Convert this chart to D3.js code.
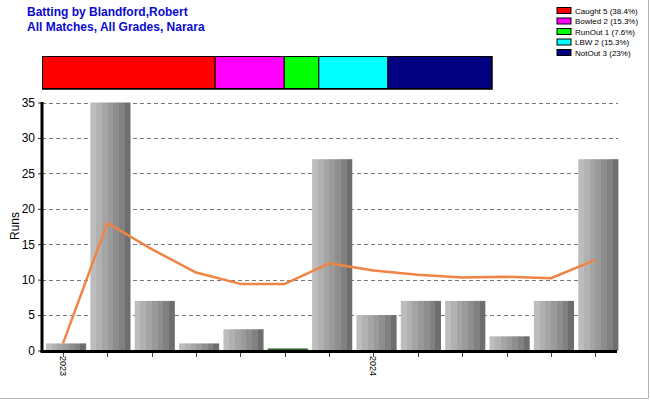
<!DOCTYPE html>
<html><head><meta charset="utf-8">
<script src="https://cdn.jsdelivr.net/npm/d3@7"></script>
<style>body{margin:0;background:#fff}svg{display:block;font-family:"Liberation Sans",Arial,sans-serif}</style>
</head><body><svg id="c" width="650" height="400"></svg>
<script>
const innings = d3.range(13);
const runs = [1, 35, 7, 1, 3, 0, 27, 5, 7, 7, 2, 7, 27];
const average = [1, 18, 14.3, 11, 9.4, 9.4, 12.3, 11.3, 10.7, 10.3, 10.4, 10.2, 12.8];
const xLabels = ["2023", "", "", "", "", "", "", "2024", "", "", "", "", ""];
const yTicks = [0, 5, 10, 15, 20, 25, 30, 35];
const dismissals = ["Caught", "Bowled", "RunOut", "LBW", "NotOut"];
const dismissalCounts = [5, 2, 1, 2, 3];
const dismissalPct = ["38.4%", "15.3%", "7.6%", "15.3%", "23%"];
const dismissalColors = ["#ff0000", "#ff00ff", "#00ff00", "#00ffff", "#000080"];

const svg = d3.select("#c");
const W = 650, H = 400;

// frame (right & bottom)
svg.append("line").attr("x1", 648.5).attr("x2", 648.5).attr("y1", 0).attr("y2", 398.5).attr("stroke", "#b4b4b4");
svg.append("line").attr("x1", 0).attr("x2", 648.5).attr("y1", 398.5).attr("y2", 398.5).attr("stroke", "#b4b4b4");

// title
const title = svg.append("text").attr("x", 27).attr("fill", "#0a0ad0").attr("font-weight", "bold").attr("font-size", 12);
title.append("tspan").attr("x", 27).attr("y", 16).text("Batting by Blandford,Robert");
title.append("tspan").attr("x", 27).attr("y", 31).text("All Matches, All Grades, Narara");

// scales
const x = d3.scaleBand().domain(innings).range([43.9, 620.5]).paddingInner(0.095).paddingOuter(0.0475);
const px = i => x(i) + 17;
const y = d3.scaleLinear().domain([0, 35]).range([350.5, 102.5]);

// gradient for bars
const defs = svg.append("defs");
const g = defs.append("linearGradient").attr("id", "barg").attr("x1", "0").attr("x2", "1").attr("y1", "0").attr("y2", "0");
const stripes = ["#bdbdbd", "#b1b1b1", "#a5a5a5", "#9a9a9a", "#8e8e8e", "#818181", "#6e6e6e"];
stripes.forEach((c, k) => {
  g.append("stop").attr("offset", k / stripes.length).attr("stop-color", c);
  g.append("stop").attr("offset", (k + 1) / stripes.length).attr("stop-color", c);
});

// grid
svg.append("g").selectAll("line").data(yTicks.filter(d => d > 0)).join("line")
  .attr("x1", 42).attr("x2", 618)
  .attr("y1", d => Math.round(y(d)) + 0.5).attr("y2", d => Math.round(y(d)) + 0.5)
  .attr("stroke", "#7a7a7a").attr("stroke-dasharray", "4,3");

// bars
svg.append("g").selectAll("rect").data(innings).join("rect")
  .attr("x", i => x(i)).attr("width", x.bandwidth())
  .attr("y", i => runs[i] > 0 ? y(runs[i]) : y(0) - 2)
  .attr("height", i => runs[i] > 0 ? y(0) - y(runs[i]) : 1.5)
  .attr("fill", i => runs[i] > 0 ? "url(#barg)" : "#1d5e1d");

// average line
svg.append("path").datum(innings)
  .attr("d", d3.line().x(i => px(i)).y(i => y(average[i])))
  .attr("fill", "none").attr("stroke", "#f08444").attr("stroke-width", 2.5).attr("stroke-linejoin", "round");

// y axis
const yAxis = svg.append("g").attr("transform", "translate(42,0)")
  .call(d3.axisLeft(y).tickValues(yTicks).tickSize(4).tickPadding(3));
yAxis.select(".domain").remove();
yAxis.selectAll(".tick line").attr("stroke", "#333");
yAxis.selectAll("text").attr("font-size", 12).attr("font-family", "Liberation Sans, Arial").attr("fill", "#000");
svg.append("line").attr("x1", 42).attr("x2", 42).attr("y1", 102).attr("y2", 352).attr("stroke", "#000").attr("stroke-width", 3);

// x axis
svg.append("line").attr("x1", 40.5).attr("x2", 617).attr("y1", 351.5).attr("y2", 351.5).attr("stroke", "#000").attr("stroke-width", 3);
const xt = svg.append("g");
xt.selectAll("line").data(innings).join("line")
  .attr("x1", i => Math.round(px(i)) + 0.5).attr("x2", i => Math.round(px(i)) + 0.5)
  .attr("y1", 353).attr("y2", 357).attr("stroke", "#444");
xt.selectAll("text").data(innings.filter(i => xLabels[i])).join("text")
  .attr("transform", i => `translate(${px(i) - 3},356) rotate(90)`)
  .attr("font-size", 9).attr("fill", "#000").text(i => xLabels[i]);

// y label
svg.append("text").attr("transform", "translate(19,226) rotate(-90)").attr("text-anchor", "middle")
  .attr("font-size", 12).attr("fill", "#000").text("Runs");

// dismissal stacked bar
const total = d3.sum(dismissalCounts);
const sx = d3.scaleLinear().domain([0, total]).range([42, 491]);
const cum = dismissalCounts.map((d, i) => d3.sum(dismissalCounts.slice(0, i)));
svg.append("g").selectAll("rect").data(dismissals).join("rect")
  .attr("x", (d, i) => sx(cum[i]) + 0.5).attr("width", (d, i) => sx(cum[i] + dismissalCounts[i]) - sx(cum[i]))
  .attr("y", 56.5).attr("height", 32)
  .attr("fill", (d, i) => dismissalColors[i]).attr("stroke", "#000").attr("stroke-width", 1);
svg.append("line").attr("x1", 42).attr("x2", 492.5).attr("y1", 89).attr("y2", 89).attr("stroke", "#000").attr("stroke-width", 1.5);
svg.append("line").attr("x1", 492).attr("x2", 492).attr("y1", 56).attr("y2", 89.5).attr("stroke", "#000").attr("stroke-width", 1.5);

// legend
const lg = svg.append("g").selectAll("g").data(dismissals).join("g")
  .attr("transform", (d, i) => `translate(557,${7.5 + i * 10.5})`);
lg.append("rect").attr("width", 14).attr("height", 6).attr("fill", (d, i) => dismissalColors[i]).attr("stroke", "#000");
lg.append("text").attr("x", 18).attr("y", 6).attr("font-size", 8).attr("fill", "#000")
  .text((d, i) => `${d} ${dismissalCounts[i]} (${dismissalPct[i]})`);
</script></body></html>
